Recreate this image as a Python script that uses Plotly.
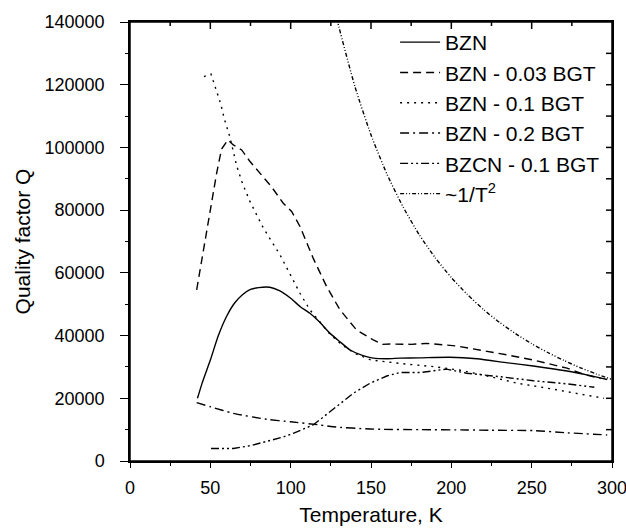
import plotly.graph_objects as go

# ---- data ----
bzn_T = [42, 45, 50, 55, 60, 65, 70, 75, 80, 87, 93, 100, 106, 112, 118, 124.5, 131, 137, 145, 151.4, 160, 168, 180, 199, 216, 235, 251, 272, 285, 297]
bzn_Q = [20000, 25000, 32200, 40000, 46000, 50300, 53000, 54700, 55300, 55400, 54300, 51900, 49200, 47100, 44300, 40700, 37900, 35400, 33600, 32800, 32600, 32800, 32900, 33100, 32600, 31300, 30300, 28700, 27400, 26000]

bgt003_T = [41.5, 45, 50, 54, 57, 61, 64.3, 69.5, 74.7, 80.9, 88, 95.4, 100.6, 105.8, 114, 122.4, 130.7, 141, 151.4, 157, 162, 175, 185, 203, 216, 235, 251, 272, 282, 293]
bgt003_Q = [54600, 65000, 80000, 92000, 99500, 102400, 100800, 99200, 95500, 91800, 87500, 82200, 79600, 74800, 64700, 55600, 48200, 41800, 38600, 37200, 37300, 37200, 37500, 36700, 35600, 33800, 32200, 29600, 27700, 26300]

bgt01_T = [46, 50.4, 54.3, 56.4, 58.7, 62.2, 66.4, 70.1, 74.7, 83, 93.4, 99.6, 105.8, 112, 118, 124.5, 132, 140, 150, 158, 170, 189, 205, 220, 241, 260, 272, 295]
bgt01_Q = [122600, 123400, 117300, 114000, 109100, 103300, 94100, 88400, 82700, 74300, 65700, 59400, 53500, 48200, 44500, 40400, 37000, 34300, 32200, 31700, 31000, 30100, 29000, 27400, 24800, 23200, 22100, 20000]

bgt02_T = [41.5, 50, 64.3, 85, 100, 118, 126.5, 149.4, 157.6, 180, 209.5, 225, 251, 272, 297]
bgt02_Q = [18600, 17300, 15200, 13300, 12500, 11500, 10900, 10200, 10100, 10000, 9900, 9800, 9700, 9000, 8300]

bzcn_T = [50.4, 57, 64.3, 75, 85, 95, 101.6, 108, 114, 118, 130.7, 139, 149.4, 159.8, 168, 180.5, 197, 209.5, 230, 251, 272, 289]
bzcn_Q = [4000, 3900, 4000, 4900, 6200, 7600, 8800, 10200, 11500, 13100, 18400, 21600, 24800, 27100, 28200, 28200, 29300, 28000, 26900, 25600, 24600, 23500]

invT2_T = [127, 130, 140, 150, 160, 170, 180, 190, 200, 210, 220, 230, 240, 250, 260, 270, 280, 290, 300]
invT2_Q = [145000, 138500, 119400, 104000, 91400, 81000, 72200, 64800, 58500, 53100, 48300, 44200, 40600, 37400, 34600, 32100, 29800, 27800, 26000]

series_names = ["BZN", "BZN - 0.03 BGT", "BZN - 0.1 BGT", "BZN - 0.2 BGT", "BZCN - 0.1 BGT", "~1/T<sup>2</sup>"]

x_ticks = [0, 50, 100, 150, 200, 250, 300]
x_minor = [25, 75, 125, 175, 225, 275]
y_ticks = [0, 20000, 40000, 60000, 80000, 100000, 120000, 140000]
y_minor = [10000, 30000, 50000, 70000, 90000, 110000, 130000]
x_range = [0, 300]
y_range = [0, 140000]

x_title = "Temperature, K"
y_title = "Quality factor Q"

FONT = "Liberation Sans, Arial, sans-serif"

series = [
    (bzn_T, bzn_Q, "solid", "spline"),
    (bgt003_T, bgt003_Q, "8px,5px", "linear"),
    (bgt01_T, bgt01_Q, "2px,5px", "linear"),
    (bgt02_T, bgt02_Q, "9px,4px,2px,4px", "spline"),
    (bzcn_T, bzcn_Q, "8px,3px,2px,3px,2px,3px", "linear"),
    (invT2_T, invT2_Q, "4px,2px,1px,2px,1px,2px", "spline"),
]

fig = go.Figure()
for (t, q, dash, shape), name in zip(series, series_names):
    line = dict(color="black", width=1.4, dash=dash, shape=shape)
    if shape == "spline":
        line["smoothing"] = 0.6
    fig.add_trace(go.Scatter(x=t, y=q, mode="lines", name=name, line=line))

tick_common = dict(tickwidth=1.3, tickcolor="black")

W, H = 626, 532
M = dict(l=130, r=14, t=22, b=71)
plot_w = W - M["l"] - M["r"]
plot_h = H - M["t"] - M["b"]

fig.update_layout(
    width=W, height=H,
    margin=M,
    paper_bgcolor="white", plot_bgcolor="white",
    font=dict(family=FONT, color="black", size=18),
    showlegend=True,
    legend=dict(
        x=0.55, y=1.0, xanchor="left", yanchor="top",
        bgcolor="rgba(0,0,0,0)", borderwidth=0,
        font=dict(size=21, family=FONT), itemwidth=40,
        tracegroupgap=0,
    ),
    xaxis=dict(
        range=x_range, tickvals=x_ticks, automargin=False, ticklabeloverflow="allow",
        ticks="outside", ticklen=5, **tick_common,
        minor=dict(tickvals=x_minor, ticks="outside", ticklen=3, **tick_common),
        showline=True, linecolor="black", linewidth=1.5, mirror=True,
        showgrid=False, zeroline=False,
        tickfont=dict(size=18), ticklabelstandoff=5,
        title=dict(text=x_title, font=dict(size=21), standoff=10),
    ),
    yaxis=dict(
        range=y_range, tickvals=y_ticks, automargin=False,
        tickformat="d",
        ticks="outside", ticklen=8, **tick_common,
        minor=dict(tickvals=y_minor, ticks="outside", ticklen=3, **tick_common),
        showline=True, linecolor="black", linewidth=1.5, mirror=True,
        showgrid=False, zeroline=False,
        tickfont=dict(size=18), ticklabelstandoff=12,
        title=dict(text=y_title, font=dict(size=21), standoff=8),
    ),
)

frame_line = dict(color="black", width=1.5)
# frame rectangle around the plot area
fig.add_shape(type="rect", xref="paper", yref="paper", x0=0, x1=1, y0=0, y1=1,
              line=frame_line, fillcolor="rgba(0,0,0,0)", layer="above")

# inward ticks on the top and right borders, placed at the axis tick values
for v in x_ticks[1:-1]:
    fig.add_shape(type="line", xref="x", yref="paper", x0=v, x1=v, y0=1, y1=1 - 7 / plot_h,
                  line=frame_line, layer="above")
for v in x_minor:
    fig.add_shape(type="line", xref="x", yref="paper", x0=v, x1=v, y0=1, y1=1 - 4 / plot_h,
                  line=frame_line, layer="above")
for v in y_ticks[1:-1] + y_minor:
    fig.add_shape(type="line", xref="paper", yref="y", x0=1, x1=1 - 6 / plot_w, y0=v, y1=v,
                  line=frame_line, layer="above")

# remove the default 8px page margin so the 626x532 figure fills the window exactly
fig.write_html(
    "out.html",
    config={"displayModeBar": False},
    post_script="document.body.style.margin='0';document.body.style.overflow='hidden';",
)
